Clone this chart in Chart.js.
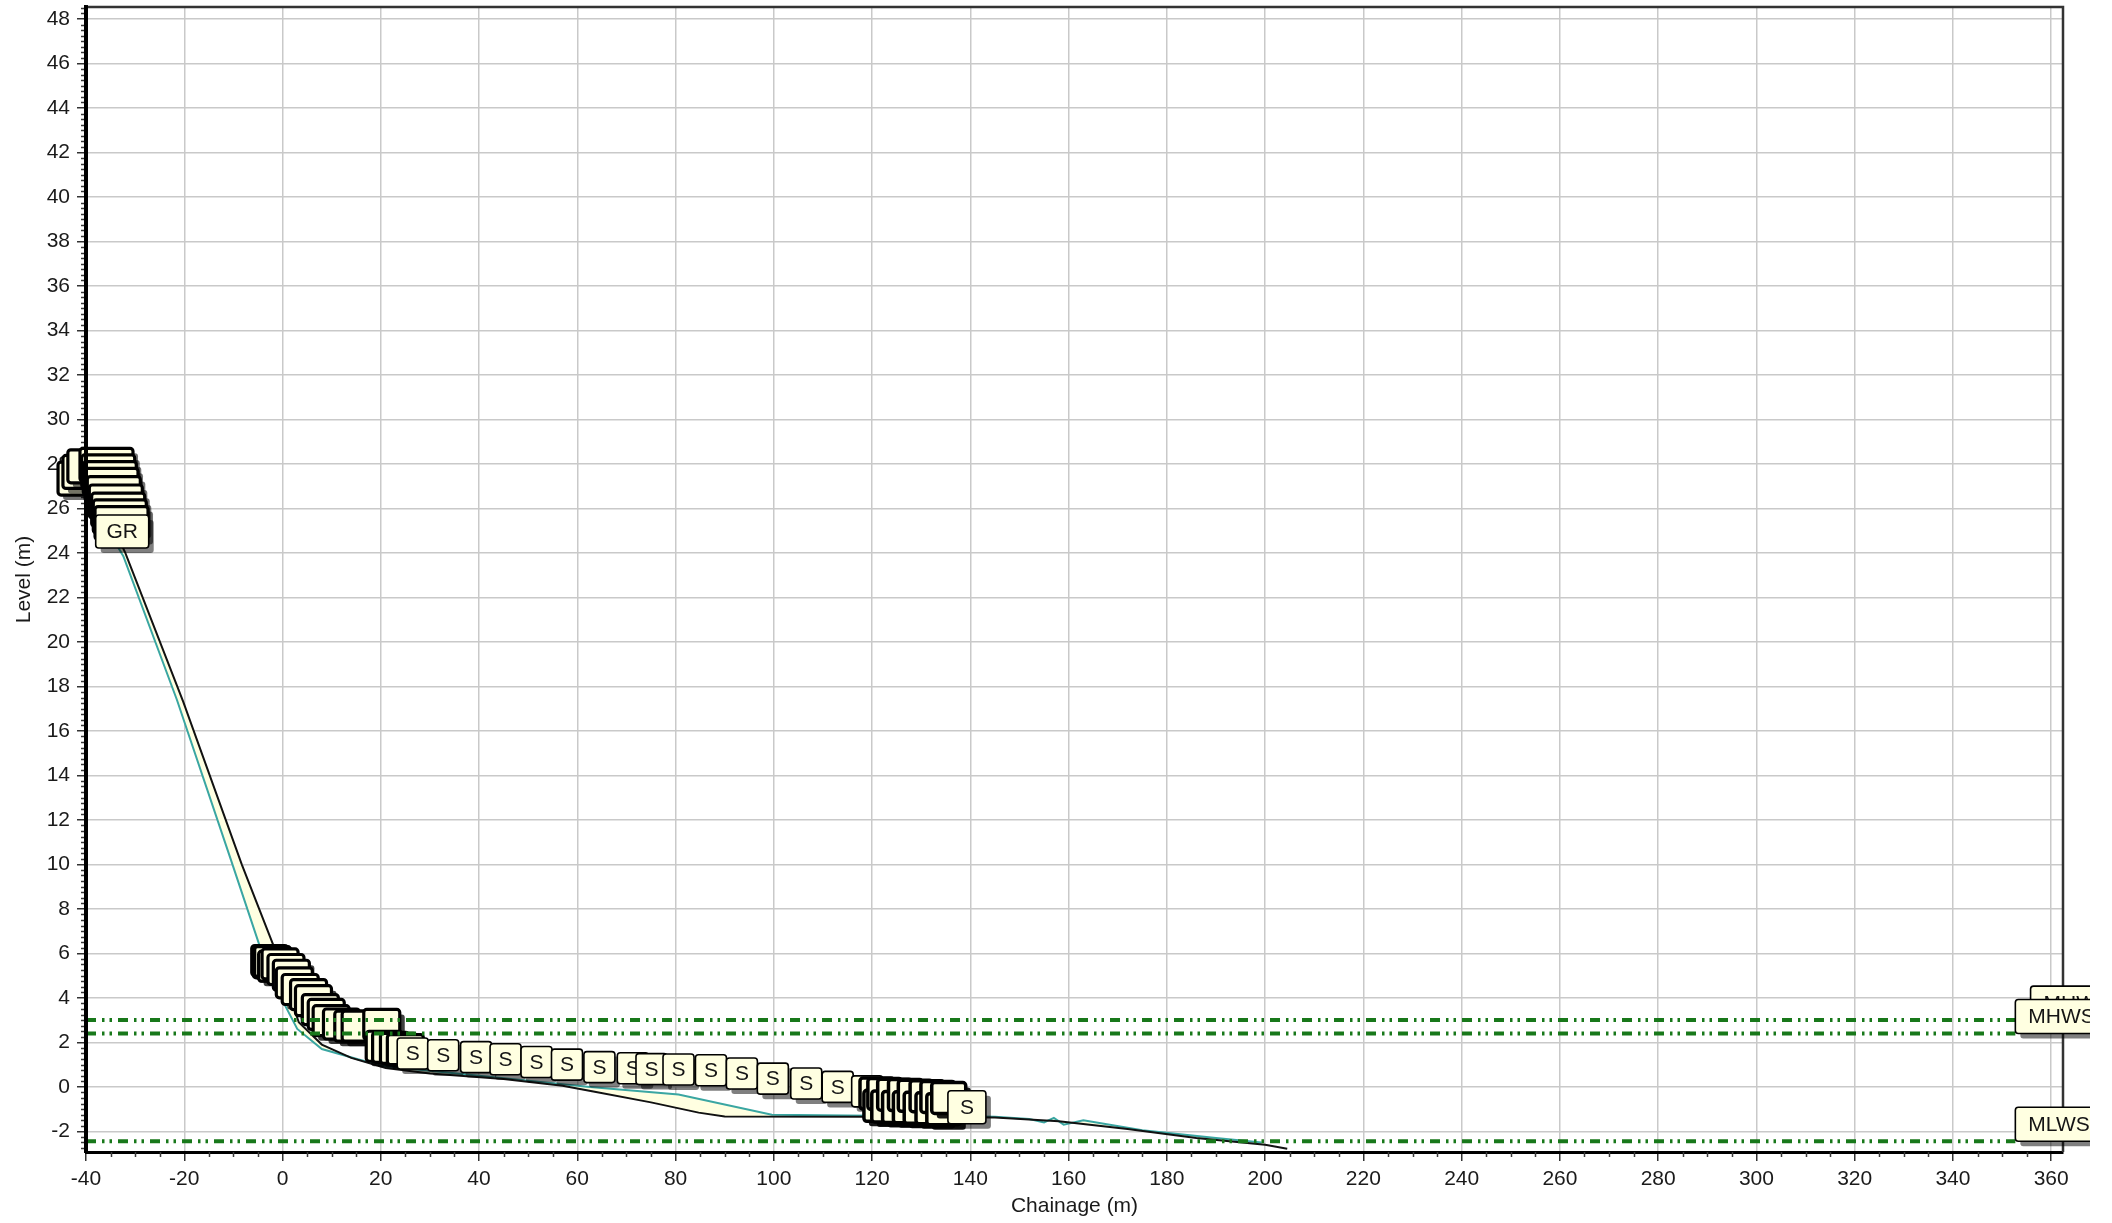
<!DOCTYPE html>
<html>
<head>
<meta charset="utf-8">
<title>Beach profile</title>
<script src="https://cdn.jsdelivr.net/npm/chart.js@4/dist/chart.umd.min.js"></script>
<style>
  html, body { margin: 0; padding: 0; background: #ffffff; }
  #wrap { width: 2112px; height: 1223px; }
</style>
</head>
<body>
<div id="wrap"><canvas id="profile" width="2112" height="1223"></canvas></div>
<script>
// ---- Axis ranges and tick spacing ----
const chainageRange = [-40, 362.4];
const levelRange = [-2.93, 48.54];
const chainageStep = 20;
const levelStep = 2;
const chainageMinorStep = 5;
const levelMinorStep = 0.25;

// ---- Surveyed profiles (chainage m, level m) ----
const profileBlackChainage = [-39.6, -36, -32, -20.2, -8.3, -1.4, 0.5, 3.3, 8, 14, 21, 30, 45, 57, 63, 75, 84.7, 90, 120, 145, 158, 172, 186, 200, 204.5];
const profileBlackLevel    = [27.0, 25.9, 24.0, 17.3, 10.0, 6.1, 4.8, 2.9, 1.9, 1.3, 0.85, 0.6, 0.35, 0.05, -0.2, -0.7, -1.16, -1.33, -1.35, -1.38, -1.55, -1.9, -2.3, -2.6, -2.78];

const profileTealChainage = [-39.8, -36.5, -32.4, -21.5, -10.5, -4.3, -1, 3, 8, 20, 40, 62, 80.6, 99.6, 120, 135, 145, 152, 155, 157, 159, 163, 175, 190, 199.3];
const profileTealLevel    = [26.8, 25.4, 23.85, 17.4, 10.2, 6.1, 4.3, 2.6, 1.7, 0.95, 0.5, 0.0, -0.35, -1.25, -1.3, -1.3, -1.35, -1.45, -1.6, -1.4, -1.7, -1.5, -1.95, -2.3, -2.5];

// ---- Tidal levels ----
const tideNames  = ['MHWN', 'MHWS', 'MLWS'];
const tideLevels = [3.0, 2.4, -2.45];
const tideEnds   = [355.8, 352.7, 352.7];

// ---- Point tags: chainage / level at each tag's bottom centre ----
const crestStackChainage = [-40.3, -39.3, -38.3, -35.83, -35.48, -35.16, -34.81, -34.34, -33.93, -33.45, -33.12, -32.77];
const crestStackLevel    = [26.6, 26.9, 27.15, 27.22, 26.92, 26.62, 26.32, 25.95, 25.57, 25.2, 24.9, 24.6];
const crestTagChainage = [-32.63];
const crestTagLevel    = [24.22];

const bermStackChainage = [-2.6, -2.3, -2.0, -1.2, -0.5, 0.7, 1.8, 2.4, 3.6, 5.3, 6.3, 7.7, 8.9, 9.9, 12.0, 14.3, 15.8, 20.2, 20.7, 22.0, 23.6, 25.0];
const bermStackLevel    = [5.0, 4.9, 4.95, 4.75, 4.85, 4.6, 4.34, 4.0, 3.7, 3.47, 3.2, 2.8, 2.58, 2.3, 2.15, 2.05, 2.05, 2.13, 1.15, 1.1, 1.05, 1.0];

const surveyTagChainage = [26.5, 32.7, 39.4, 45.4, 51.7, 57.9, 64.5, 71.3, 75.1, 80.6, 87.2, 93.5, 99.8, 106.6, 113.0, 119.0];
const surveyTagLevel    = [0.8, 0.72, 0.64, 0.54, 0.42, 0.3, 0.19, 0.14, 0.1, 0.08, 0.05, -0.1, -0.33, -0.55, -0.7, -0.9];

const toeStackChainage = [121.0, 121.8, 122.6, 123.4, 124.6, 125.6, 126.8, 127.8, 128.8, 130.0, 131.2, 132.4, 133.4, 134.6, 135.6];
const toeStackLevel    = [-1.0, -1.55, -1.02, -1.58, -1.05, -1.6, -1.07, -1.62, -1.1, -1.64, -1.12, -1.66, -1.15, -1.7, -1.2];
const toeTagChainage = [139.3];
const toeTagLevel    = [-1.66];

// ---- Styling ----
const FONT = '"Liberation Sans", Arial, Helvetica, sans-serif';
const TAG_FILL = '#FFFFE1';
const TIDE_GREEN = '#18781a';

const tagGroups = [
  { xs: crestStackChainage, ys: crestStackLevel,  text: '',   w: 53, h: 33, edge: 3.2, shade: 0.55 },
  { xs: crestTagChainage,   ys: crestTagLevel,    text: 'GR', w: 53, h: 33, edge: 1.6, shade: 0.5 },
  { xs: bermStackChainage,  ys: bermStackLevel,   text: '',   w: 36, h: 30, edge: 3.2, shade: 0.75 },
  { xs: surveyTagChainage,  ys: surveyTagLevel,   text: 'S',  w: 31, h: 31, edge: 1.6, shade: 0.5 },
  { xs: toeStackChainage,   ys: toeStackLevel,    text: '',   w: 34, h: 31, edge: 3.5, shade: 0.9 },
  { xs: toeTagChainage,     ys: toeTagLevel,      text: 'S',  w: 38, h: 33, edge: 1.6, shade: 0.5 }
];

const toPoints = (xs, ys) => xs.map((v, i) => ({ x: v, y: ys[i] }));

function drawTag(ctx, left, top, w, h, text, align, edge, shade) {
  ctx.fillStyle = 'rgba(0,0,0,' + shade + ')';
  ctx.beginPath();
  ctx.roundRect(left + 5, top + 5, w, h, 3);
  ctx.fill();
  ctx.fillStyle = TAG_FILL;
  ctx.beginPath();
  ctx.roundRect(left, top, w, h, 3);
  ctx.fill();
  ctx.lineWidth = edge;
  ctx.strokeStyle = '#000';
  ctx.stroke();
  if (!text) return;
  ctx.fillStyle = '#141414';
  ctx.font = '21px ' + FONT;
  ctx.textBaseline = 'middle';
  if (align === 'left') {
    ctx.textAlign = 'left';
    ctx.fillText(text, left + 13, top + h / 2 + 1);
  } else {
    ctx.textAlign = 'center';
    ctx.fillText(text, left + w / 2, top + h / 2 + 1);
  }
}

// Tags are painted straight after the black profile, so they sit over the
// profile lines but under the tidal lines.
const tagPlugin = {
  id: 'pointTags',
  afterDatasetDraw(chart, args) {
    if (chart.data.datasets[args.index].label !== 'Profile') return;
    const { ctx, scales: { x, y } } = chart;
    ctx.save();
    tagGroups.forEach(g => {
      g.xs.forEach((v, i) => {
        const px = x.getPixelForValue(v);
        const py = y.getPixelForValue(g.ys[i]);
        drawTag(ctx, px - g.w / 2, py - g.h, g.w, g.h, g.text, 'center', g.edge, g.shade);
      });
    });
    ctx.restore();
  }
};

const framePlugin = {
  id: 'frame',
  beforeDatasetsDraw(chart) {
    const { ctx, chartArea: a, scales: { x, y } } = chart;
    ctx.save();
    ctx.strokeStyle = '#3a3a3a';
    ctx.lineWidth = 1.5;
    ctx.beginPath();
    const nx = Math.round((chainageRange[1] - chainageRange[0]) / chainageMinorStep);
    for (let i = 0; i <= nx; i++) {
      const v = chainageRange[0] + i * chainageMinorStep;
      if (i % 4 === 0) continue;
      const px = Math.round(x.getPixelForValue(v)) + 0.5;
      ctx.moveTo(px, a.bottom);
      ctx.lineTo(px, a.bottom + 5);
    }
    const y0 = Math.ceil(levelRange[0] / levelMinorStep);
    const y1 = Math.floor(levelRange[1] / levelMinorStep);
    for (let k = y0; k <= y1; k++) {
      if (k % 8 === 0) continue;
      const py = Math.round(y.getPixelForValue(k * levelMinorStep)) + 0.5;
      ctx.moveTo(a.left - 5, py);
      ctx.lineTo(a.left, py);
    }
    ctx.stroke();
    ctx.restore();
  },
  afterDatasetsDraw(chart) {
    const { ctx, chartArea: a, scales: { x, y } } = chart;
    ctx.save();
    // top and right frame
    ctx.strokeStyle = '#333';
    ctx.lineWidth = 2.5;
    ctx.beginPath();
    ctx.moveTo(a.left, a.top);
    ctx.lineTo(a.right, a.top);
    ctx.lineTo(a.right, a.bottom);
    ctx.stroke();
    // left axis line stays on top of the crest tags
    ctx.strokeStyle = '#000';
    ctx.lineWidth = 4;
    ctx.beginPath();
    ctx.moveTo(a.left, a.top - 1);
    ctx.lineTo(a.left, a.bottom + 1);
    ctx.stroke();
    // tidal level tags, cut at the edge of the drawing
    ctx.beginPath();
    ctx.rect(0, 0, 2090, chart.height);
    ctx.clip();
    tideNames.forEach((name, i) => {
      const px = x.getPixelForValue(tideEnds[i]);
      const py = y.getPixelForValue(tideLevels[i]);
      drawTag(ctx, px, py - 34, 80, 34, name, 'left', 1.6, 0.5);
    });
    ctx.restore();
  }
};

const tideDatasets = tideNames.map((name, i) => ({
  label: name,
  data: [{ x: chainageRange[0], y: tideLevels[i] }, { x: tideEnds[i], y: tideLevels[i] }],
  showLine: true,
  borderColor: TIDE_GREEN,
  borderWidth: 4,
  borderDash: [10, 6, 2.5, 5, 2.5, 6],
  borderCapStyle: 'butt',
  pointRadius: 0,
  fill: false,
  order: 1
}));

const chart = new Chart(document.getElementById('profile'), {
  type: 'scatter',
  data: {
    datasets: [
      {
        label: 'Profile',
        data: toPoints(profileBlackChainage, profileBlackLevel),
        showLine: true,
        borderColor: '#111111',
        borderWidth: 2,
        pointRadius: 0,
        fill: false,
        order: 4
      },
      {
        label: 'Previous profile',
        data: toPoints(profileTealChainage, profileTealLevel),
        showLine: true,
        borderColor: '#3aa6a2',
        borderWidth: 2,
        pointRadius: 0,
        fill: { target: 0 },
        backgroundColor: '#FFFFE1',
        order: 5
      },
      ...tideDatasets
    ]
  },
  options: {
    responsive: false,
    animation: false,
    devicePixelRatio: 1,
    layout: { padding: { top: 7, right: 49, bottom: 0, left: 0 } },
    plugins: { legend: { display: false }, tooltip: { enabled: false } },
    scales: {
      x: {
        type: 'linear',
        min: chainageRange[0],
        max: chainageRange[1],
        afterFit(s) { s.height = 71; s.paddingLeft = 0; s.paddingRight = 0; },
        ticks: {
          stepSize: chainageStep,
          includeBounds: false,
          autoSkip: false,
          maxRotation: 0,
          padding: 6,
          color: '#1a1a1a',
          font: { family: FONT, size: 21 }
        },
        grid: { color: '#c9c9c9', lineWidth: 1.5, tickLength: 9, tickColor: '#333', tickWidth: 1.5 },
        border: { color: '#000', width: 3 },
        title: {
          display: true,
          text: 'Chainage (m)',
          color: '#1a1a1a',
          font: { family: FONT, size: 21 },
          padding: { top: 0, bottom: 4.5 }
        }
      },
      y: {
        type: 'linear',
        min: levelRange[0],
        max: levelRange[1],
        afterFit(s) { s.width = 86; s.paddingTop = 0; s.paddingBottom = 0; },
        ticks: {
          stepSize: levelStep,
          includeBounds: false,
          autoSkip: false,
          padding: 7,
          color: '#1a1a1a',
          font: { family: FONT, size: 21 }
        },
        grid: { color: '#c9c9c9', lineWidth: 1.5, tickLength: 9, tickColor: '#333', tickWidth: 1.5 },
        border: { color: '#000', width: 4 },
        title: {
          display: true,
          text: 'Level (m)',
          color: '#1a1a1a',
          font: { family: FONT, size: 21 },
          padding: { top: 12, bottom: 0 }
        }
      }
    }
  },
  plugins: [framePlugin, tagPlugin]
});
</script>
</body>
</html>
